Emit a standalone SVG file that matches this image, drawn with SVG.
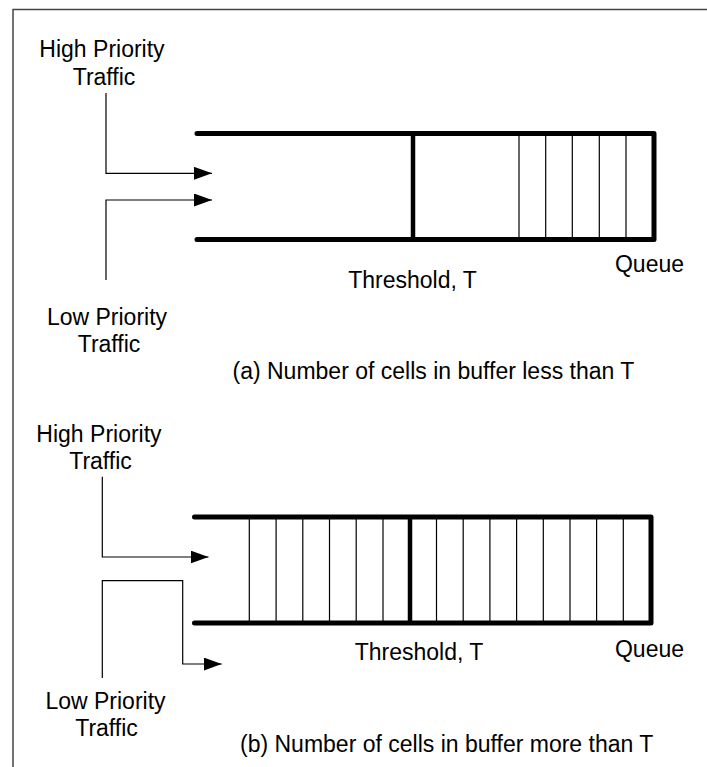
<svg xmlns="http://www.w3.org/2000/svg" width="707" height="767" viewBox="0 0 707 767">
<style>
text{font-family:"Liberation Sans",Arial,sans-serif;font-size:23px;fill:#000;text-anchor:middle}
.frame{stroke:#444;stroke-width:1.5;fill:none}
.q{stroke:#000;stroke-width:5;fill:none;stroke-linecap:round;stroke-linejoin:round}
.th{stroke:#000;stroke-width:4.5;fill:none}
.cell{stroke:#000;stroke-width:1.2;fill:none}
.conn{stroke:#000;stroke-width:1.2;fill:none}
</style>
<defs>
<marker id="ah" markerUnits="userSpaceOnUse" markerWidth="18" markerHeight="13" refX="18" refY="6.5" orient="auto">
<path d="M0,0 L18,6.5 L0,13 Z" fill="#000"/>
</marker>
</defs>
<g id="frame">
<path class="frame" d="M13,767 V9.5 H707"/>
</g>
<g id="queue-a">
<g class="cell">
<line x1="519" y1="133.5" x2="519" y2="239.5"/>
<line x1="545.7" y1="133.5" x2="545.7" y2="239.5"/>
<line x1="572.3" y1="133.5" x2="572.3" y2="239.5"/>
<line x1="599.3" y1="133.5" x2="599.3" y2="239.5"/>
<line x1="626" y1="133.5" x2="626" y2="239.5"/>
</g>
<line class="th" x1="413" y1="133.5" x2="413" y2="239.5"/>
<path class="q" d="M197,133.5 H654 V239.5 H197"/>
<text x="649.5" y="272">Queue</text>
</g>
<g id="threshold-a"><text x="412.5" y="288">Threshold, T</text></g>
<g id="high-a"><text x="102" y="57"><tspan x="102">High Priority</tspan><tspan x="104" y="85">Traffic</tspan></text></g>
<g id="low-a"><text x="107" y="325"><tspan x="107">Low Priority</tspan><tspan x="109" y="352">Traffic</tspan></text></g>
<g id="caption-a"><text x="232.5" y="379" style="text-anchor:start">(a) Number of cells in buffer less than T</text></g>

<g id="queue-b">
<g class="cell">
<line x1="249.3" y1="517" x2="249.3" y2="623"/>
<line x1="276.1" y1="517" x2="276.1" y2="623"/>
<line x1="302.8" y1="517" x2="302.8" y2="623"/>
<line x1="329.5" y1="517" x2="329.5" y2="623"/>
<line x1="356.2" y1="517" x2="356.2" y2="623"/>
<line x1="383" y1="517" x2="383" y2="623"/>
<line x1="436.5" y1="517" x2="436.5" y2="623"/>
<line x1="463.2" y1="517" x2="463.2" y2="623"/>
<line x1="489.9" y1="517" x2="489.9" y2="623"/>
<line x1="516.6" y1="517" x2="516.6" y2="623"/>
<line x1="543.3" y1="517" x2="543.3" y2="623"/>
<line x1="570" y1="517" x2="570" y2="623"/>
<line x1="596.6" y1="517" x2="596.6" y2="623"/>
<line x1="623.3" y1="517" x2="623.3" y2="623"/>
</g>
<line class="th" x1="410" y1="517" x2="410" y2="623"/>
<path class="q" d="M194.5,517 H651 V623 H194.5"/>
<text x="649.5" y="656.5">Queue</text>
</g>
<g id="threshold-b"><text x="419" y="660">Threshold, T</text></g>
<g id="high-b"><text x="99" y="441.5"><tspan x="99">High Priority</tspan><tspan x="100.5" y="469">Traffic</tspan></text></g>
<g id="low-b"><text x="105.5" y="709"><tspan x="105.5">Low Priority</tspan><tspan x="106.5" y="736">Traffic</tspan></text></g>
<g id="caption-b"><text x="240" y="751.5" style="text-anchor:start">(b) Number of cells in buffer more than T</text></g>

<g id="connectors">
<path class="conn" d="M106,93 V173.3 H212" marker-end="url(#ah)"/>
<path class="conn" d="M106,280 V200 H212" marker-end="url(#ah)"/>
<path class="conn" d="M102.3,476.7 V557 H208.5" marker-end="url(#ah)"/>
<path class="conn" d="M102.3,678 V580.7 H182.7 V664 H221.7" marker-end="url(#ah)"/>
</g>
</svg>
